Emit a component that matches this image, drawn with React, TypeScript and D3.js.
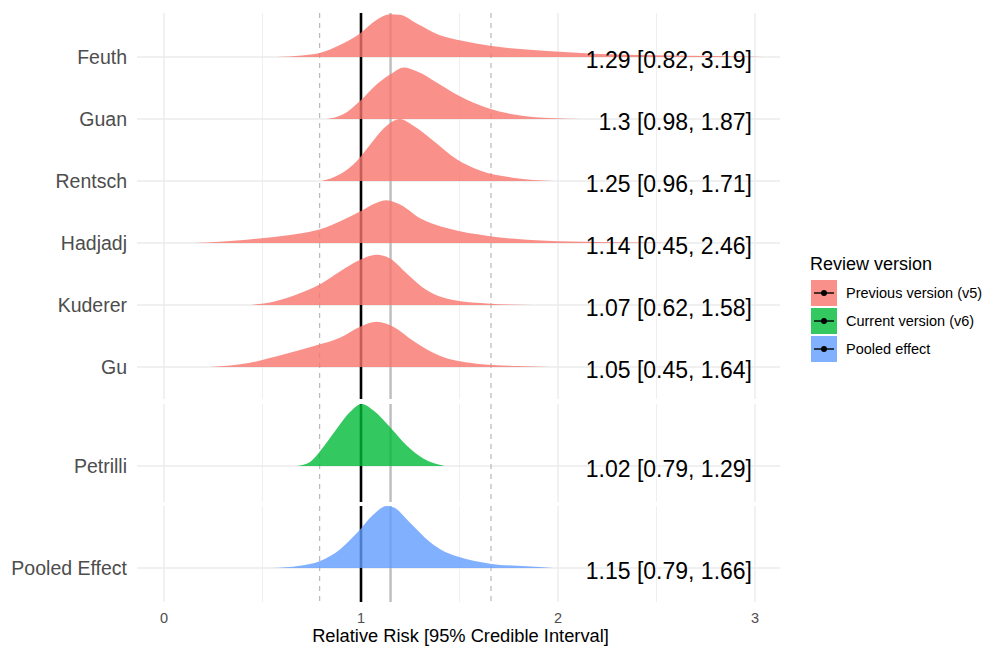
import React from 'react';
import * as d3 from 'd3';

const svgWidth = 983;
const svgHeight = 651;
const margin = { left: 137, right: 203 };
const panelRight = svgWidth - margin.right;

const FONT = '"Liberation Sans", Arial, Helvetica, sans-serif';

// studies, top to bottom
const studies = ['Feuth', 'Guan', 'Rentsch', 'Hadjadj', 'Kuderer', 'Gu', 'Petrilli', 'Pooled Effect'];
const studyVersion = [0, 0, 0, 0, 0, 0, 1, 2];
const estimates = [
    '1.29 [0.82, 3.19]',
    '1.3 [0.98, 1.87]',
    '1.25 [0.96, 1.71]',
    '1.14 [0.45, 2.46]',
    '1.07 [0.62, 1.58]',
    '1.05 [0.45, 1.64]',
    '1.02 [0.79, 1.29]',
    '1.15 [0.79, 1.66]',
];

const versions = ['Previous version (v5)', 'Current version (v6)', 'Pooled effect'];
const versionColors = ['#F8766D', '#00BA38', '#619CFF'];

const xTicks = [0, 1, 2, 3];
const xMinor = [0.5, 1.5, 2.5];

// reference lines: null effect, pooled estimate, pooled interval
const nullEffect = 1;
const pooledEstimate = 1.15;
const pooledInterval = [0.79, 1.66];

// densities: [relative risk, relative height]
const feuthDensity = [[0.57, 0], [0.7, 0.025], [0.79, 0.065], [0.89, 0.19], [0.995, 0.38], [1.08, 0.6], [1.147, 0.69], [1.198, 0.68], [1.283, 0.54], [1.4, 0.35], [1.5, 0.27], [1.655, 0.18], [1.84, 0.12], [2.01, 0.085], [2.18, 0.053], [2.5, 0.03], [2.8, 0.018], [2.95, 0.01], [3.05, 0]];
const guanDensity = [[0.826, 0], [0.91, 0.076], [0.995, 0.29], [1.08, 0.56], [1.164, 0.75], [1.215, 0.83], [1.283, 0.77], [1.384, 0.59], [1.5, 0.37], [1.638, 0.18], [1.77, 0.076], [1.925, 0.021], [2.18, 0]];
const rentschDensity = [[0.8, 0], [0.893, 0.11], [0.978, 0.32], [1.062, 0.65], [1.13, 0.89], [1.198, 1.0], [1.266, 0.89], [1.367, 0.65], [1.486, 0.35], [1.604, 0.17], [1.77, 0.054], [1.975, 0]];
const hadjadjDensity = [[0.148, 0], [0.42, 0.053], [0.64, 0.13], [0.74, 0.18], [0.82, 0.25], [0.9, 0.36], [0.995, 0.51], [1.08, 0.65], [1.13, 0.69], [1.198, 0.62], [1.3, 0.4], [1.435, 0.24], [1.655, 0.11], [1.94, 0.037], [2.2, 0.016], [2.6, 0]];
const kudererDensity = [[0.437, 0], [0.555, 0.053], [0.69, 0.19], [0.79, 0.33], [0.893, 0.54], [0.995, 0.73], [1.08, 0.81], [1.147, 0.75], [1.232, 0.51], [1.333, 0.24], [1.468, 0.08], [1.655, 0.021], [1.875, 0]];
const guDensity = [[0.234, 0], [0.437, 0.07], [0.606, 0.2], [0.775, 0.35], [0.893, 0.47], [0.995, 0.65], [1.08, 0.73], [1.164, 0.65], [1.266, 0.42], [1.4, 0.18], [1.587, 0.053], [1.79, 0.016], [1.96, 0]];
const petrilliDensity = [[0.674, 0], [0.741, 0.065], [0.79, 0.23], [0.877, 0.6], [0.944, 0.87], [1.003, 1.0], [1.062, 0.9], [1.147, 0.63], [1.232, 0.33], [1.316, 0.12], [1.426, 0]];
const pooledDensity = [[0.547, 0], [0.69, 0.037], [0.79, 0.11], [0.893, 0.3], [0.978, 0.56], [1.062, 0.86], [1.13, 1.0], [1.164, 0.98], [1.249, 0.73], [1.35, 0.42], [1.42, 0.27], [1.486, 0.19], [1.655, 0.07], [1.84, 0.027], [1.976, 0]];

const densities = [feuthDensity, guanDensity, rentschDensity, hadjadjDensity, kudererDensity, guDensity, petrilliDensity, pooledDensity];

// facet panels
const panels = [
    { rows: studies.slice(0, 6), top: 13, bottom: 399, first: 57, last: 367 },
    { rows: ['Petrilli'], top: 404, bottom: 502, first: 466, last: 466 },
    { rows: ['Pooled Effect'], top: 506, bottom: 602, first: 568, last: 568 },
];

const xScale = d3.scaleLinear().domain([0, 3]).range([164, 755]);
const hScale = d3.scaleLinear().domain([0, 1]).range([0, 62]);

const App = () => {
    const panelY = panels.map(p => d3.scalePoint<string>().domain(p.rows).range([p.first, p.last]));
    const rowY = (name: string) => {
        for (let i = 0; i < panels.length; i++) {
            const v = panelY[i](name);
            if (v !== undefined) return v;
        }
        return 0;
    };

    return (
        <div style={{ position: 'absolute', left: 0, top: 0 }}>
            <svg width={svgWidth} height={svgHeight} style={{ display: 'block', fontFamily: FONT }}>
                <rect width={svgWidth} height={svgHeight} fill='#fff' />
                {panels.map((p, pi) => (
                    <g key={'grid' + pi}>
                        {xMinor.map(t => (
                            <line key={'mn' + t} x1={xScale(t)} x2={xScale(t)} y1={p.top} y2={p.bottom}
                                stroke='#EBEBEB' strokeWidth={0.8} />
                        ))}
                        {xTicks.map(t => (
                            <line key={'mj' + t} x1={xScale(t)} x2={xScale(t)} y1={p.top} y2={p.bottom}
                                stroke='#EBEBEB' strokeWidth={1.4} />
                        ))}
                        {p.rows.map(r => (
                            <line key={'h' + r} x1={margin.left} x2={panelRight} y1={panelY[pi](r)} y2={panelY[pi](r)}
                                stroke='#EBEBEB' strokeWidth={1.4} />
                        ))}
                        {pooledInterval.map(v => (
                            <line key={'d' + v} x1={xScale(v)} x2={xScale(v)} y1={p.top} y2={p.bottom}
                                stroke='#B8B8B8' strokeWidth={1.2} strokeDasharray='5,5' />
                        ))}
                        <line x1={xScale(pooledEstimate)} x2={xScale(pooledEstimate)} y1={p.top} y2={p.bottom}
                            stroke='#BDBDBD' strokeWidth={2.4} />
                        <line x1={xScale(nullEffect)} x2={xScale(nullEffect)} y1={p.top} y2={p.bottom}
                            stroke='#000' strokeWidth={2.6} />
                    </g>
                ))}

                {studies.map((s, i) => {
                    const base = rowY(s);
                    const area = d3.area<number[]>()
                        .x(d => xScale(d[0]))
                        .y0(base)
                        .y1(d => base - hScale(d[1]))
                        .curve(d3.curveMonotoneX);
                    return (
                        <path key={'ridge' + s} d={area(densities[i]) || ''}
                            fill={versionColors[studyVersion[i]]} fillOpacity={0.8} />
                    );
                })}

                {studies.map((s, i) => (
                    <text key={'est' + s} x={752} y={rowY(s) + 10.5} textAnchor='end'
                        fontSize={23} fill='#000'>{estimates[i]}</text>
                ))}

                {studies.map(s => (
                    <text key={'lab' + s} x={127} y={rowY(s) + 7} textAnchor='end'
                        fontSize={19.5} fill='#4D4D4D'>{s}</text>
                ))}

                {xTicks.map(t => (
                    <text key={'xt' + t} x={xScale(t)} y={623} textAnchor='middle'
                        fontSize={14.5} fill='#4D4D4D'>{t}</text>
                ))}
                <text x={(margin.left + panelRight) / 2 + 2} y={642} textAnchor='middle' fontSize={18.3} fill='#000'>
                    Relative Risk [95% Credible Interval]
                </text>

                <g transform='translate(810,0)'>
                    <text x={0} y={270} fontSize={18} fill='#000'>Review version</text>
                    {versions.map((v, i) => {
                        const y = 280 + i * 28;
                        return (
                            <g key={'leg' + v}>
                                <rect x={1} y={y} width={26} height={26}
                                    fill={versionColors[i]} fillOpacity={0.8} />
                                <line x1={4} x2={24} y1={y + 13} y2={y + 13} stroke='#000' strokeWidth={1.4} />
                                <circle cx={14} cy={y + 13} r={3} fill='#000' />
                                <text x={36} y={y + 18} fontSize={14.5} fill='#000'>{v}</text>
                            </g>
                        );
                    })}
                </g>
            </svg>
        </div>
    );
};

export default App;
